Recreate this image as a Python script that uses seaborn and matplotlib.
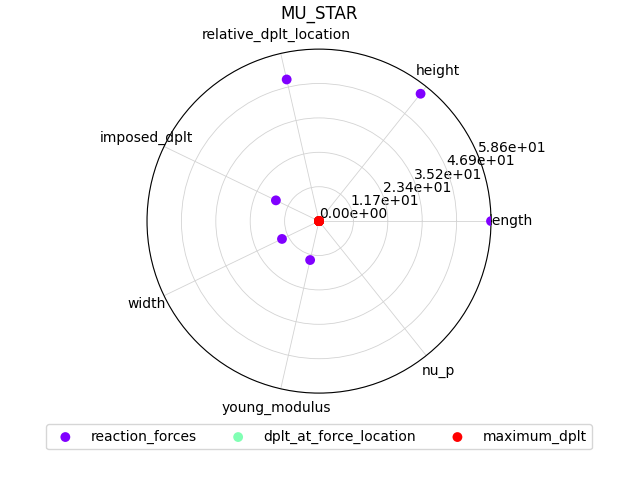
import numpy as np
import matplotlib
matplotlib.use("Agg")
import matplotlib.pyplot as plt
import seaborn as sns

categories = ["length", "height", "relative_dplt_location", "imposed_dplt",
              "width", "young_modulus", "nu_p"]
series_names = ["reaction_forces", "dplt_at_force_location", "maximum_dplt"]
reaction_forces = [58.6, 55.5, 49.5, 16.3, 14.0, 13.6, 0.0]
dplt_at_force_location = [0.0, 0.0, 0.0, 0.0, 0.0, 0.0, 0.0]
maximum_dplt = [0.0, 0.0, 0.0, 0.0, 0.0, 0.0, 0.0]
rmax = 58.6

fig = plt.figure(figsize=(6.4, 4.8), dpi=100)
ax = fig.add_axes([0.2297, 0.181, 0.5375, 0.7167], projection="polar")
angles = np.linspace(0, 2 * np.pi, len(categories), endpoint=False)
colors = plt.cm.rainbow(np.linspace(0, 1, 3))
for name, vals, c in zip(series_names, [reaction_forces, dplt_at_force_location, maximum_dplt], colors):
    sns.scatterplot(x=angles, y=vals, ax=ax, color=c, s=50, edgecolor="none", label=name, zorder=3)
ax.set_xticks(angles)
ax.set_xticklabels(categories)
ticks = np.linspace(0, rmax, 6)
ax.set_yticks(ticks)
ax.set_yticklabels([f"{t:.2e}" for t in ticks])
ax.set_ylim(0, rmax)
ax.grid(color="lightgray", linewidth=0.6)
ax.set_title("MU_STAR")
ax.legend(loc="upper center", bbox_to_anchor=(0.5, -0.07), ncol=3)
fig.savefig("out.png", dpi=100)
